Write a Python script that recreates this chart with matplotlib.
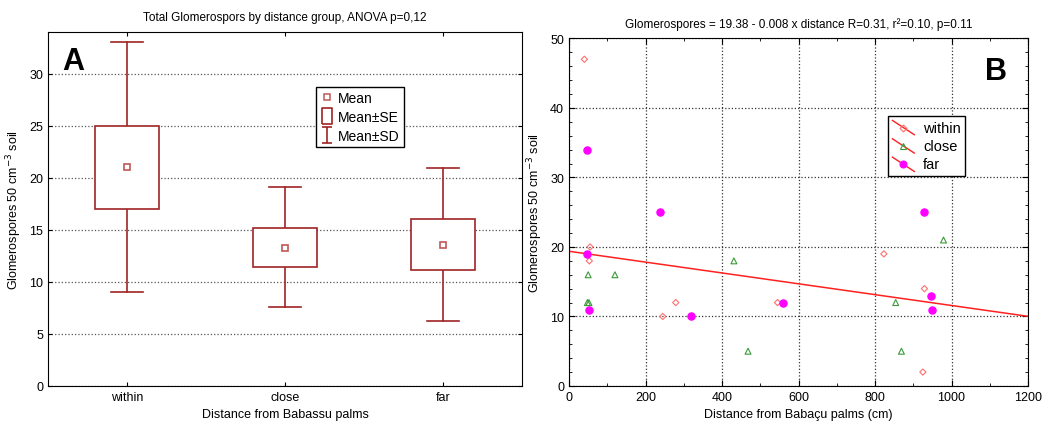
import numpy as np
import matplotlib
matplotlib.use("Agg")
import matplotlib.pyplot as plt
from matplotlib.lines import Line2D
from matplotlib.path import Path
from matplotlib.legend_handler import HandlerBase
from matplotlib.ticker import MultipleLocator

# Panel A: group summaries
groups = ["within", "close", "far"]
means = [21.0, 13.3, 13.5]
se_low = [17.0, 11.4, 11.1]
se_high = [25.0, 15.2, 16.0]
sd_low = [9.0, 7.6, 6.2]
sd_high = [33.0, 19.1, 20.9]

# Panel B: distance (cm) vs glomerospores
within_x = [40, 55, 53, 245, 279, 545, 823, 929, 925]
within_y = [47, 20, 18, 10, 12, 12, 19, 14, 2]
close_x = [50, 120, 48, 52, 431, 468, 854, 869, 979]
close_y = [16, 16, 12, 12, 18, 5, 12, 5, 21]
far_x = [46, 237, 929, 48, 52, 319, 560, 946, 950]
far_y = [34, 25, 25, 19, 11, 10, 12, 13, 11]
fit_intercept = 19.38
fit_slope = -0.0078

box_col = "#a02525"
mean_col = "#c05858"

plt.rcParams["font.family"] = ["Liberation Sans", "DejaVu Sans"]

fig = plt.figure(figsize=(10.47, 4.27), dpi=100)
axA = fig.add_axes([0.0458, 0.0937, 0.4527, 0.829])
axB = fig.add_axes([0.5435, 0.0937, 0.4384, 0.814])

# ---- Panel A ----
xs = np.arange(len(groups))
bw = 0.4
cw = 0.2
for i in xs:
    axA.plot([i, i], [sd_low[i], se_low[i]], color=box_col, lw=1.2, zorder=3)
    axA.plot([i, i], [se_high[i], sd_high[i]], color=box_col, lw=1.2, zorder=3)
    axA.plot([i - cw / 2, i + cw / 2], [sd_low[i]] * 2, color=box_col, lw=1.2, zorder=3)
    axA.plot([i - cw / 2, i + cw / 2], [sd_high[i]] * 2, color=box_col, lw=1.2, zorder=3)
    axA.add_patch(plt.Rectangle((i - bw / 2, se_low[i]), bw, se_high[i] - se_low[i],
                                facecolor="white", edgecolor=box_col, lw=1.2, zorder=3))
axA.plot(xs, means, linestyle="none", marker="s", ms=5, mfc="white", mec=mean_col,
         mew=1.2, zorder=4)

axA.set_xlim(-0.5, 2.5)
axA.set_ylim(0, 34)
axA.set_xticks(xs)
axA.set_xticklabels(groups)
axA.set_yticks(np.arange(0, 31, 5))
axA.yaxis.grid(True, linestyle=":", color="#555555", lw=0.9)
axA.set_axisbelow(True)
axA.tick_params(direction="in", top=True, right=True, labelsize=9, length=3)
axA.set_xlabel("Distance from Babassu palms", fontsize=9)
axA.set_ylabel("Glomerospores 50 cm$^{-3}$ soil", fontsize=9)
axA.set_title("Total Glomerospors by distance group, ANOVA p=0,12", fontsize=8.5, pad=9)
axA.text(0.03, 0.96, "A", transform=axA.transAxes, fontsize=22, fontweight="bold",
         va="top", ha="left")

se_marker = Path([(-0.6, -1), (0.6, -1), (0.6, 1), (-0.6, 1), (-0.6, -1)])
sd_marker = Path([(-0.6, 1), (0.6, 1), (0, 1), (0, -1), (-0.6, -1), (0.6, -1)],
                 [Path.MOVETO, Path.LINETO, Path.MOVETO, Path.LINETO, Path.MOVETO, Path.LINETO])
hA = [
    Line2D([], [], linestyle="none", marker="s", ms=4, mfc="white", mec=mean_col, mew=1.1),
    Line2D([], [], linestyle="none", marker=se_marker, ms=12, mfc="white", mec=box_col, mew=1.2),
    Line2D([], [], linestyle="none", marker=sd_marker, ms=12, mfc="none", mec=box_col, mew=1.2),
]
legA = axA.legend(hA, ["Mean", "Mean\u00b1SE", "Mean\u00b1SD"], loc="upper left",
                  bbox_to_anchor=(0.565, 0.845), fontsize=10, fancybox=False, framealpha=1,
                  handlelength=1.0, handletextpad=0.3, labelspacing=0.35, borderpad=0.3,
                  borderaxespad=0)
legA.get_frame().set_edgecolor("black")
legA.get_frame().set_linewidth(1.0)

# ---- Panel B ----
axB.scatter(within_x, within_y, marker="D", s=10, facecolors="none", edgecolors="#ff7070",
            linewidths=0.8, zorder=3)
axB.scatter(close_x, close_y, marker="^", s=18, facecolors="none", edgecolors="#3a9a3a",
            linewidths=0.8, zorder=3)
axB.scatter(far_x, far_y, marker="o", s=26, color="#ff00ff", zorder=3)
line_x = np.array([0, 1200])
axB.plot(line_x, fit_intercept + fit_slope * line_x, color="#ff2020", lw=1.1, zorder=2)

axB.set_xlim(0, 1200)
axB.set_ylim(0, 50)
axB.xaxis.set_major_locator(MultipleLocator(200))
axB.xaxis.set_minor_locator(MultipleLocator(100))
axB.yaxis.set_major_locator(MultipleLocator(10))
axB.yaxis.set_minor_locator(MultipleLocator(2))
axB.grid(True, which="major", linestyle=":", color="#333333", lw=0.9)
axB.set_axisbelow(True)
axB.tick_params(which="both", direction="in", top=True, right=True, labelsize=9)
axB.tick_params(which="major", length=4)
axB.tick_params(which="minor", length=2.5)
axB.set_xlabel("Distance from Baba\u00e7u palms (cm)", fontsize=9)
axB.set_ylabel("Glomerospores 50 cm$^{-3}$ soil", fontsize=9)
axB.set_title("Glomerospores = 19.38 - 0.008 x distance R=0.31, r\u00b2=0.10, p=0.11",
              fontsize=8.5, pad=8)
axB.text(0.955, 0.95, "B", transform=axB.transAxes, fontsize=22, fontweight="bold",
         va="top", ha="right")


class DiagHandler(HandlerBase):
    def create_artists(self, legend, orig_handle, xdescent, ydescent, width, height,
                       fontsize, trans):
        x0, x1 = -xdescent, -xdescent + width
        y0, y1 = -ydescent - 0.3 * height, -ydescent + 1.1 * height
        ln = Line2D([x0, x1], [y1, y0], color="#ff2020", lw=1.0, transform=trans)
        mk = Line2D([(x0 + x1) / 2], [(y0 + y1) / 2], linestyle="none",
                    marker=orig_handle.get_marker(), ms=orig_handle.get_markersize(),
                    mfc=orig_handle.get_markerfacecolor(),
                    mec=orig_handle.get_markeredgecolor(), mew=0.8, transform=trans)
        return [ln, mk]


hB = [
    Line2D([], [], marker="D", ms=3.5, mfc="none", mec="#ff7070"),
    Line2D([], [], marker="^", ms=4, mfc="none", mec="#3a9a3a"),
    Line2D([], [], marker="o", ms=5, mfc="#ff00ff", mec="#ff00ff"),
]
legB = axB.legend(hB, ["within", "close", "far"], loc="upper left",
                  bbox_to_anchor=(0.695, 0.776), fontsize=10.5, fancybox=False, framealpha=1,
                  handler_map={Line2D: DiagHandler()}, handlelength=1.5,
                  handletextpad=0.6, labelspacing=0.3, borderpad=0.3, borderaxespad=0)
legB.get_frame().set_edgecolor("black")
legB.get_frame().set_linewidth(1.0)

fig.savefig("out.png", dpi=100)
